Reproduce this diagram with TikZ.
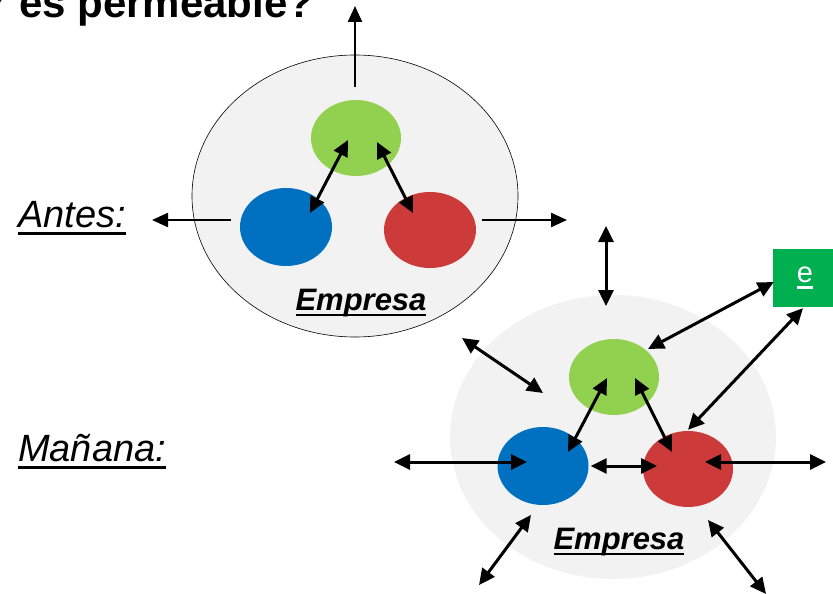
\documentclass[tikz,border=0pt]{standalone}
\usepackage{fontspec}
\setmainfont{Liberation Sans}
\usetikzlibrary{arrows.meta,shapes.geometric}
\definecolor{bgray}{HTML}{F2F2F2}
\definecolor{leaf}{HTML}{92D050}
\definecolor{sea}{HTML}{0070C0}
\definecolor{brick}{HTML}{CC3A3A}
\definecolor{tagGreen}{HTML}{00B050}
% underline drawn as a rule under the box, thickness tied to the font size
\newcommand\ulin[1]{\setbox0\hbox{#1}\rlap{\rule[-0.2em]{\wd0}{0.08em}}\box0}
\begin{document}
\begin{tikzpicture}[x=1pt,y=-1pt,
  dept/.style={ellipse,inner sep=0pt,draw=none},
  link/.style={line width=3pt,{Triangle[length=16pt,width=15pt]}-{Triangle[length=16pt,width=15pt]}},
  outlink/.style={line width=2.4pt,-{Triangle[length=16pt,width=14pt]}},
  caption/.style={anchor=base,inner sep=0pt,font=\fontsize{31}{35}\selectfont\bfseries\itshape},
  side/.style={anchor=base west,inner sep=0pt,font=\fontsize{38}{42}\selectfont\itshape}
]
\useasboundingbox (0,0) rectangle (833,594);
\begin{scope}
\clip (0,0) rectangle (833,594);

% heading
\node[anchor=base west,inner sep=0pt,font=\fontsize{42}{46}\selectfont\bfseries] (head) at (-9,18) {r es permeable?};

% ---- Antes ----
\node[dept,draw=black,line width=0.6pt,fill=bgray,minimum width=326,minimum height=282] (firmA) at (355,196) {};
\node[dept,fill=leaf,minimum width=90,minimum height=76] (gA) at (356,138) {};
\node[dept,fill=sea,minimum width=92,minimum height=78] (bA) at (286,227) {};
\node[dept,fill=brick,minimum width=92,minimum height=76] (rA) at (430,230) {};
\node[caption] (capA) at (361,310) {\ulin{Empresa}};

\coordinate (upA) at (355,6);
\coordinate (leftA) at (152,220);
\coordinate (rightA) at (567,220);

\draw[link] ([shift={(-8,2)}]gA.center) -- ([shift={(24,-14)}]bA.center);
\draw[link] ([shift={(21,4)}]gA.center) -- ([shift={(-17,-17)}]rA.center);
\draw[outlink] ([shift={(-1,-13)}]gA.north) -- (upA);
\draw[outlink] ([shift={(-9,-7)}]bA.west) -- (leftA);
\draw[outlink] ([shift={(6,-10)}]rA.east) -- (rightA);

\node[side] (antes) at (18,227) {\ulin{Antes:}};

% ---- Mañana ----
\node[dept,fill=bgray,minimum width=326,minimum height=284] (firmB) at (613,437) {};
\node[dept,fill=leaf,minimum width=90,minimum height=76] (gB) at (614,377) {};
\node[dept,fill=sea,minimum width=91,minimum height=78] (bB) at (543,466) {};
\node[dept,fill=brick,minimum width=90,minimum height=76] (rB) at (688,469) {};
\node[caption] (capB) at (619,549) {\ulin{Empresa}};
\node[fill=tagGreen,minimum width=64,minimum height=58,inner sep=0pt,text=white,font=\fontsize{29}{32}\selectfont] (tag) at (805,278) {\ulin{e}};

\coordinate (topB1) at (606,226);
\coordinate (topB2) at (606,306);
\coordinate (nwB1) at (462,338);
\coordinate (nwB2) at (543,393);
\coordinate (westB) at (394,462);
\coordinate (eastB) at (826,462);
\coordinate (swB1) at (531,515);
\coordinate (swB2) at (479,585);
\coordinate (seB1) at (708,520);
\coordinate (seB2) at (766,594);

\draw[link] (topB1) -- (topB2);
\draw[link] (nwB1) -- (nwB2);
\draw[link] (swB1) -- (swB2);
\draw[link] (seB1) -- (seB2);
\draw[link] ([shift={(34,-28)}]gB.center) -- ([shift={(1,4)}]tag.west);
\draw[link] ([shift={(-2,1)}]tag.south) -- ([shift={(0,-1)}]rB.north);
\draw[link] ([shift={(-7,1)}]gB.center) -- ([shift={(25,-14)}]bB.center);
\draw[link] ([shift={(21,1)}]gB.center) -- ([shift={(-16,-17)}]rB.center);
\draw[link] (westB) -- ([shift={(-16,-4)}]bB.center);
\draw[link] ([shift={(2,0)}]bB.east) -- ([shift={(-31,-3)}]rB.center);
\draw[link] ([shift={(17,-7)}]rB.center) -- (eastB);

\node[side] (manana) at (18,461) {\ulin{Mañana:}};
\end{scope}
\end{tikzpicture}
\end{document}
